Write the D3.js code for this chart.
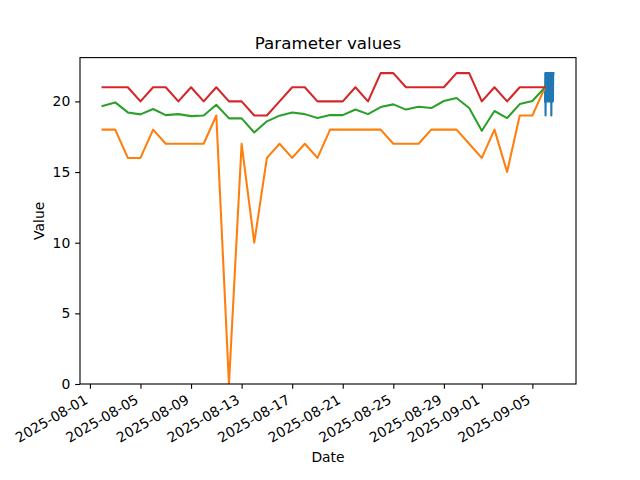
<!DOCTYPE html>
<html><head><meta charset="utf-8">
<script src="https://cdn.jsdelivr.net/npm/d3@7"></script>
<style>body{margin:0;background:#fff} text{font-family:"DejaVu Sans",sans-serif}</style>
</head><body><svg id="c" width="640" height="480"></svg>
<script>
const dates = ["2025-08-02","2025-08-03","2025-08-04","2025-08-05","2025-08-06","2025-08-07","2025-08-08","2025-08-09","2025-08-10","2025-08-11","2025-08-12","2025-08-13","2025-08-14","2025-08-15","2025-08-16","2025-08-17","2025-08-18","2025-08-19","2025-08-20","2025-08-21","2025-08-22","2025-08-23","2025-08-24","2025-08-25","2025-08-26","2025-08-27","2025-08-28","2025-08-29","2025-08-30","2025-08-31","2025-09-01","2025-09-02","2025-09-03","2025-09-04","2025-09-05","2025-09-06"];
const maxVals = [21,21,21,20,21,21,20,21,20,21,20,20,19,19,20,21,21,20,20,20,21,20,22,22,21,21,21,21,22,22,20,21,20,21,21,21];
const meanVals = [19.67,19.93,19.22,19.08,19.46,19.03,19.1,18.96,19.0,19.76,18.8,18.8,17.8,18.59,18.99,19.22,19.1,18.82,19.03,19.03,19.43,19.1,19.6,19.79,19.42,19.62,19.53,20.03,20.24,19.53,17.92,19.32,18.82,19.81,20.03,21];
const minVals = [18,18,16,16,18,17,17,17,17,19,0,17,10,16,17,16,17,16,18,18,18,18,18,17,17,17,18,18,18,17,16,18,15,19,19,21];
const readingTimes = ["2025-09-06T00:00","2025-09-06T00:30","2025-09-06T01:00","2025-09-06T01:30","2025-09-06T02:00","2025-09-06T02:30","2025-09-06T03:00","2025-09-06T03:30","2025-09-06T04:00","2025-09-06T04:30","2025-09-06T05:00","2025-09-06T05:30","2025-09-06T06:00","2025-09-06T06:30","2025-09-06T07:00","2025-09-06T07:30","2025-09-06T08:00","2025-09-06T08:30","2025-09-06T09:00","2025-09-06T09:30","2025-09-06T10:00","2025-09-06T10:30","2025-09-06T11:00","2025-09-06T11:30","2025-09-06T12:00","2025-09-06T12:30","2025-09-06T13:00","2025-09-06T13:30","2025-09-06T14:00","2025-09-06T14:30","2025-09-06T15:00","2025-09-06T15:30","2025-09-06T16:00"];
const readingVals = [20,22,19,22,20,22,20,22,20,22,20,22,20,22,20,22,20,22,20,22,20,22,20,22,19,22,20,22,20,22,20,22,22];
const xTickLabels = ["2025-08-01","2025-08-05","2025-08-09","2025-08-13","2025-08-17","2025-08-21","2025-08-25","2025-08-29","2025-09-01","2025-09-05"];
const yTicks = [0,5,10,15,20];

const W=640,H=480, L=80, R=576, T=57.6, B=384;
const pd = d3.timeParse("%Y-%m-%d"), pt = d3.timeParse("%Y-%m-%dT%H:%M");
const daily = dates.map((d,i)=>({t:pd(d),max:maxVals[i],mean:meanVals[i],min:minVals[i]}));
const readings = readingTimes.map((d,i)=>({t:pt(d),v:readingVals[i]}));
const t0 = d3.min(daily,d=>d.t), t1 = d3.max(readings,d=>d.t);
const span = t1 - t0;
const x = d3.scaleTime().domain([new Date(+t0-0.05*span), new Date(+t1+0.05*span)]).range([L,R]);
const y = d3.scaleLinear().domain([0,23.1]).range([B,T]);

const svg = d3.select("#c");
svg.append("defs").append("clipPath").attr("id","clip").append("rect").attr("x",L).attr("y",T).attr("width",R-L).attr("height",B-T);
const g = svg.append("g").attr("clip-path","url(#clip)");
const tk = 4.86;
function line(acc){ return d3.line().x(d=>x(d.t)).y(acc); }
const style = sel => sel.attr("fill","none").attr("stroke-width",2.08).attr("stroke-linejoin","round").attr("stroke-linecap","square");
g.append("path").datum(readings).attr("d",line(d=>y(d.v))).attr("stroke","#1f77b4").call(style);
g.append("path").datum(daily).attr("d",line(d=>y(d.min))).attr("stroke","#ff7f0e").call(style);
g.append("path").datum(daily).attr("d",line(d=>y(d.mean))).attr("stroke","#2ca02c").call(style);
g.append("path").datum(daily).attr("d",line(d=>y(d.max))).attr("stroke","#d62728").call(style);

const fmt = d3.timeFormat("%Y-%m-%d");
const xa = svg.append("g").attr("transform",`translate(0,${B})`)
  .call(d3.axisBottom(x).tickValues(xTickLabels.map(pd)).tickFormat(fmt).tickSize(tk).tickPadding(tk));
xa.select(".domain").remove();
xa.selectAll("line").attr("stroke","#000").attr("stroke-width",1.11);
xa.selectAll("text").attr("font-size",13.9).attr("fill","#000").attr("text-anchor","end")
  .attr("x",0).attr("y",0).attr("dy",null)
  .attr("transform",`translate(-1.5,${2*tk+8.8}) rotate(-30)`);

const ya = svg.append("g").attr("transform",`translate(${L},0)`)
  .call(d3.axisLeft(y).tickValues(yTicks).tickSize(tk).tickPadding(tk));
ya.select(".domain").remove();
ya.selectAll("line").attr("stroke","#000").attr("stroke-width",1.11);
ya.selectAll("text").attr("font-size",13.9).attr("fill","#000");

svg.append("rect").attr("x",L).attr("y",T).attr("width",R-L).attr("height",B-T)
  .attr("fill","none").attr("stroke","#000").attr("stroke-width",1.11);

svg.append("text").attr("x",(L+R)/2).attr("y",49.3).attr("text-anchor","middle").attr("font-size",16.7).text("Parameter values");
svg.append("text").attr("x",(L+R)/2).attr("y",461.5).attr("text-anchor","middle").attr("font-size",13.9).text("Date");
svg.append("text").attr("transform",`translate(44,${(T+B)/2}) rotate(-90)`).attr("text-anchor","middle").attr("font-size",13.9).text("Value");
</script></body></html>
